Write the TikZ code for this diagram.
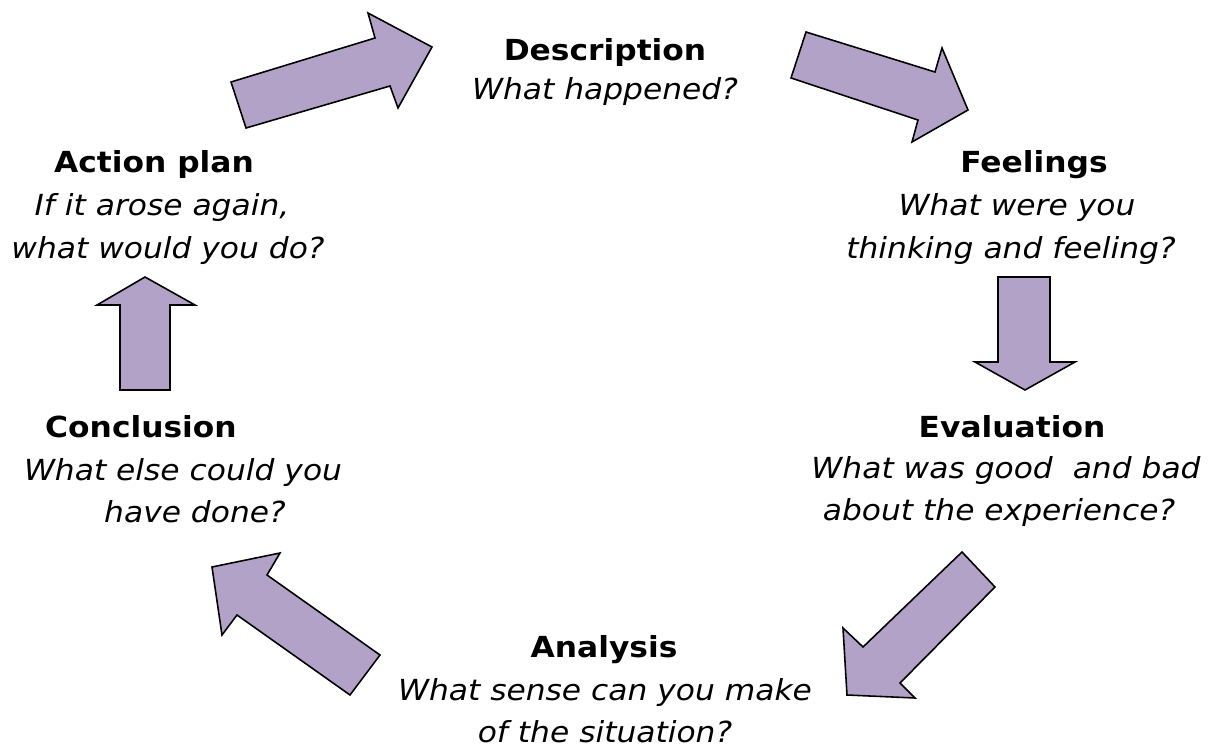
\documentclass[tikz,border=0pt]{standalone}
\usepackage{fontspec}
\setmainfont{DejaVu Sans}[FakeStretch=1.08]
\definecolor{lilac}{HTML}{B3A2C7}

\begin{document}
\begin{tikzpicture}[x=0.02cm,y=-0.02cm,
    bigarrow/.style={draw=black,fill=lilac,line width=0.9pt,line join=miter},
    head/.style={font=\fontsize{16.5}{20}\selectfont\bfseries,anchor=base,inner sep=0pt},
    ask/.style={font=\fontsize{16.5}{20}\selectfont\itshape,anchor=base,inner sep=0pt}]
            \useasboundingbox (0,0) rectangle (1208,747);
            %\draw[very thin,color=gray] (0,0) grid[step=100] (1208,747);
            % block arrows, clockwise from the top left
            \draw[bigarrow] (246,128) -- (231,82) -- (375,38) -- (368,13) -- (432,47) -- (398,108) -- (390,86) -- cycle;
            \draw[bigarrow] (806,32) -- (935,72) -- (942,48) -- (968,110) -- (912,142) -- (918,120) -- (791,78) -- cycle;
            \draw[bigarrow] (998,277) -- (1050,277) -- (1050,362) -- (1075,362) -- (1025,390) -- (975,362) -- (998,362) -- cycle;
            \draw[bigarrow] (962,552) -- (995,587) -- (900,683) -- (915,698) -- (847,695) -- (843,628) -- (863,647) -- cycle;
            \draw[bigarrow] (380,655) -- (350,695) -- (237,615) -- (222,635) -- (212,567) -- (280,553) -- (267,575) -- cycle;
            \draw[bigarrow] (120,390) -- (120,305) -- (97,305) -- (145,277) -- (195,305) -- (170,305) -- (170,390) -- cycle;
            % stages
            \node[head] (desc) at (605,60) {Description};
            \node[ask] (desca) at (605,99) {What happened?};
            \node[head] (feel) at (1034,172) {Feelings};
            \node[ask] (feela) at (1017,215) {What were you};
            \node[ask] (feelb) at (1011,258) {thinking and feeling?};
            \node[head] (eval) at (1012,437) {Evaluation};
            \node[ask] (evala) at (1006,478) {What was good\ \ and bad};
            \node[ask] (evalb) at (999,520) {about the experience?};
            \node[head] (anal) at (604,657) {Analysis};
            \node[ask] (anala) at (605,700) {What sense can you make};
            \node[ask] (analb) at (605,742) {of the situation?};
            \node[head] (concl) at (141,437) {Conclusion};
            \node[ask] (concla) at (183,480) {What else could you};
            \node[ask] (conclb) at (195,522) {have done?};
            \node[head] (plan) at (154,172) {Action plan};
            \node[ask] (plana) at (162,215) {If it arose again,};
            \node[ask] (planb) at (168,258) {what would you do?};
        \end{tikzpicture}
\end{document}
